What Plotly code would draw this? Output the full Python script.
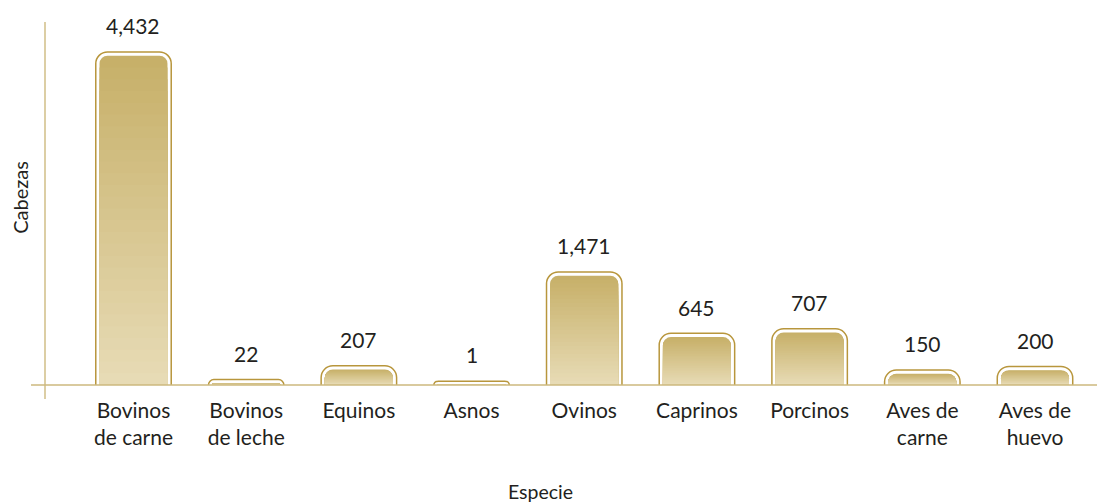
import plotly.graph_objects as go

categories = ["Bovinos<br>de carne", "Bovinos<br>de leche", "Equinos", "Asnos", "Ovinos",
              "Caprinos", "Porcinos", "Aves de<br>carne", "Aves de<br>huevo"]
values = [4432, 22, 207, 1, 1471, 645, 707, 150, 200]
value_labels = ["4,432", "22", "207", "1", "1,471", "645", "707", "150", "200"]
x_title = "Especie"
y_title = "Cabezas"

FONT = "Lato, 'Open Sans', sans-serif"
TEXT = "#231F20"
GOLD = "#B8963C"
AXIS = "#CDB97E"
TOP_RGB = (199, 176, 105)
BOT_RGB = (231, 219, 181)
BAR_W = 0.603
RADIUS = 8
N_STEPS = 28

fig = go.Figure()

# outer gold outline and white gap (drawn as thick bar borders)
fig.add_trace(go.Bar(x=categories, y=values, width=BAR_W,
                     marker=dict(color="white", line=dict(color=GOLD, width=9), cornerradius=RADIUS),
                     hoverinfo="skip", showlegend=False))
fig.add_trace(go.Bar(x=categories, y=values, width=BAR_W,
                     marker=dict(color="white", line=dict(color="white", width=6), cornerradius=RADIUS),
                     hoverinfo="skip", showlegend=False))

# vertical gradient fill: overlaid bars, each one a fraction of the full value
for k in range(N_STEPS):
    frac = (N_STEPS - k) / N_STEPS
    t = k / (N_STEPS - 1)
    rgb = tuple(round(TOP_RGB[j] + (BOT_RGB[j] - TOP_RGB[j]) * t) for j in range(3))
    fig.add_trace(go.Bar(x=categories, y=[v * frac for v in values], width=BAR_W,
                         marker=dict(color="rgb(%d,%d,%d)" % rgb, line=dict(width=0),
                                     cornerradius=RADIUS),
                         customdata=values,
                         hovertemplate="%{x}: %{customdata:,}<extra></extra>" if k == 0 else None,
                         hoverinfo=None if k == 0 else "skip",
                         showlegend=False))

annotations = [dict(x=c, y=v, text=lab, showarrow=False, yanchor="middle", yshift=30,
                    font=dict(family=FONT, size=21, color=TEXT))
               for c, v, lab in zip(categories, values, value_labels)]
annotations.append(dict(xref="paper", yref="paper", x=0.467, y=-0.2853, text=x_title,
                        showarrow=False, xanchor="center", yanchor="middle",
                        font=dict(family=FONT, size=19.5, color=TEXT)))

# the page body has an 8px margin, so the figure is offset by 8px; margins compensate
fig.update_layout(
    width=1105, height=504,
    margin=dict(l=37, r=8, t=2, b=127),
    paper_bgcolor="white", plot_bgcolor="white",
    barmode="overlay",
    font=dict(family=FONT, color=TEXT),
    annotations=annotations,
    shapes=[
        dict(type="line", xref="paper", yref="paper", x0=-0.0132, x1=1.0, y0=0, y1=0,
             line=dict(color=AXIS, width=1.4), layer="above"),
        dict(type="line", xref="paper", yref="paper", x0=0, x1=0, y0=-0.0373, y1=0.968,
             line=dict(color=AXIS, width=1.4), layer="above"),
    ],
    xaxis=dict(type="category", range=[-0.7853, 8.6212], showgrid=False, zeroline=False,
               showline=False, ticks="", ticklabelstandoff=11,
               tickfont=dict(family=FONT, size=21, color=TEXT)),
    yaxis=dict(range=[0, 5047], showgrid=False, zeroline=False, showline=False,
               showticklabels=False, ticks="",
               title=dict(text=y_title, font=dict(family=FONT, size=20, color=TEXT), standoff=10)),
)

fig.write_html("out.html")
